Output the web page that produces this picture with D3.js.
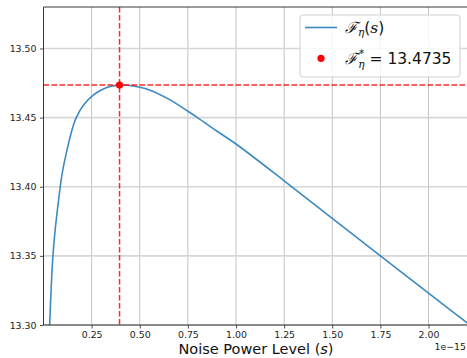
<!DOCTYPE html>
<html>
<head>
<meta charset="utf-8">
<script src="https://cdn.jsdelivr.net/npm/d3@7"></script>
<style>
  body { margin: 0; background: #fff; }
  text { font-family: "DejaVu Sans", sans-serif; }
</style>
</head>
<body>
<div id="chart"></div>
<script>
// noise power level (x 1e-15) and objective value
const noiseLevels = [0.032, 0.040, 0.049, 0.060, 0.078, 0.087, 0.100, 0.118, 0.148, 0.170,
  0.208, 0.260, 0.300, 0.350, 0.395, 0.450, 0.500, 0.550, 0.655, 0.750,
  0.800, 0.900, 1.000, 1.250, 1.500, 1.750, 2.000, 2.205];
const objectiveValues = [13.3000, 13.3270, 13.3500, 13.3680, 13.3900, 13.4000, 13.4120, 13.4240, 13.4411, 13.4500,
  13.4592, 13.4664, 13.4700, 13.4727, 13.4735, 13.4732, 13.4720, 13.4700, 13.4630, 13.4546,
  13.4500, 13.4403, 13.4309, 13.4043, 13.3771, 13.3500, 13.3230, 13.3010];
const xTicks = [0.25, 0.50, 0.75, 1.00, 1.25, 1.50, 1.75, 2.00];
const yTicks = [13.30, 13.35, 13.40, 13.45, 13.50];
const optimum = { s: 0.395, value: 13.4735 };

const width = 467, height = 358;
const plot = { left: 43.5, right: 468, top: 7, bottom: 325 };

const svg = d3.select("#chart").append("svg")
  .attr("width", width).attr("height", height);

const x = d3.scaleLinear().domain([0, 2.205]).range([plot.left, plot.right]);
const y = d3.scaleLinear().domain([13.30, 13.53]).range([plot.bottom, plot.top]);

svg.append("clipPath").attr("id", "clip")
  .append("rect")
  .attr("x", plot.left).attr("y", plot.top)
  .attr("width", plot.right - plot.left).attr("height", plot.bottom - plot.top);

// grid
svg.append("g").selectAll("line").data(xTicks).enter().append("line")
  .attr("x1", d => x(d)).attr("x2", d => x(d))
  .attr("y1", plot.top).attr("y2", plot.bottom)
  .attr("stroke", "#c4c4c4").attr("stroke-width", 1);
svg.append("g").selectAll("line").data(yTicks).enter().append("line")
  .attr("x1", plot.left).attr("x2", plot.right)
  .attr("y1", d => y(d)).attr("y2", d => y(d))
  .attr("stroke", "#d6d6d6").attr("stroke-width", 1.6);

// curve
const points = noiseLevels.map((s, i) => ({ s: s, v: objectiveValues[i] }));
const line = d3.line().x(d => x(d.s)).y(d => y(d.v)).curve(d3.curveCatmullRom.alpha(0.5));
svg.append("path")
  .datum(points)
  .attr("clip-path", "url(#clip)")
  .attr("d", line)
  .attr("fill", "none")
  .attr("stroke", "#3b8bc2")
  .attr("stroke-width", 1.6);

// optimum guides
svg.append("line")
  .attr("x1", plot.left).attr("x2", plot.right)
  .attr("y1", y(optimum.value)).attr("y2", y(optimum.value))
  .attr("stroke", "#f00").attr("stroke-opacity", 0.85)
  .attr("stroke-width", 1.5).attr("stroke-dasharray", "5.5,2.5");
svg.append("line")
  .attr("x1", x(optimum.s)).attr("x2", x(optimum.s))
  .attr("y1", plot.top).attr("y2", plot.bottom)
  .attr("stroke", "#f00").attr("stroke-opacity", 0.85)
  .attr("stroke-width", 1.5).attr("stroke-dasharray", "5.5,2.5");
svg.append("circle")
  .attr("cx", x(optimum.s)).attr("cy", y(optimum.value))
  .attr("r", 3.6).attr("fill", "red");

// axes
const xAxis = svg.append("g")
  .attr("transform", `translate(0,${plot.bottom})`)
  .call(d3.axisBottom(x).tickValues(xTicks).tickFormat(d3.format(".2f")).tickSize(3.5).tickPadding(3));
const yAxis = svg.append("g")
  .attr("transform", `translate(${plot.left},0)`)
  .call(d3.axisLeft(y).tickValues(yTicks).tickFormat(d3.format(".2f")).tickSize(3.5).tickPadding(3.5));
[xAxis, yAxis].forEach(g => {
  g.select(".domain").remove();
  g.selectAll("text").attr("font-size", 9.4).attr("fill", "#222")
    .attr("font-family", "DejaVu Sans");
  g.selectAll("line").attr("stroke", "#222").attr("stroke-width", 0.8);
});

// spines
svg.append("line").attr("x1", plot.left).attr("x2", plot.left)
  .attr("y1", plot.top).attr("y2", plot.bottom).attr("stroke", "#222").attr("stroke-width", 0.9);
svg.append("line").attr("x1", plot.left).attr("x2", plot.right)
  .attr("y1", plot.bottom).attr("y2", plot.bottom).attr("stroke", "#222").attr("stroke-width", 0.9);
svg.append("line").attr("x1", plot.left).attr("x2", plot.right)
  .attr("y1", plot.top).attr("y2", plot.top).attr("stroke", "#222").attr("stroke-width", 0.9);

// labels
const xLabel = svg.append("text")
  .attr("x", 256).attr("y", 353.5)
  .attr("text-anchor", "middle").attr("font-size", 14.5).attr("fill", "#111");
xLabel.append("tspan").text("Noise Power Level (");
xLabel.append("tspan").attr("font-style", "italic").text("s");
xLabel.append("tspan").text(")");

svg.append("text")
  .attr("x", 466).attr("y", 350)
  .attr("text-anchor", "end").attr("font-size", 9.4).attr("fill", "#222")
  .text("1e\u221215");

// legend
const legend = svg.append("g");
legend.append("rect")
  .attr("x", 300).attr("y", 15).attr("width", 160).attr("height", 62).attr("rx", 3)
  .attr("fill", "#fff").attr("fill-opacity", 0.85)
  .attr("stroke", "#d0d0d0").attr("stroke-width", 1);
legend.append("line")
  .attr("x1", 305).attr("x2", 337).attr("y1", 27.5).attr("y2", 27.5)
  .attr("stroke", "#3b8bc2").attr("stroke-width", 1.6);
legend.append("circle").attr("cx", 321).attr("cy", 58.3).attr("r", 3.6).attr("fill", "red");

const t1 = legend.append("text").attr("x", 345).attr("y", 33).attr("font-size", 15.5).attr("fill", "#111");
t1.append("tspan").attr("font-family", "DejaVu Serif").attr("font-style", "italic").text("\u2131");
t1.append("tspan").attr("font-size", 10.5).attr("dy", 3).attr("font-family", "DejaVu Serif").attr("font-style", "italic").text("\u03b7");
t1.append("tspan").attr("dy", -3).text("(");
t1.append("tspan").attr("font-family", "DejaVu Serif").attr("font-style", "italic").text("s");
t1.append("tspan").text(")");

const t2 = legend.append("text").attr("x", 345).attr("y", 64).attr("font-size", 15.5).attr("fill", "#111");
t2.append("tspan").attr("font-family", "DejaVu Serif").attr("font-style", "italic").text("\u2131");
t2.append("tspan").attr("font-size", 10.5).attr("dx", 1).attr("dy", -7).text("*");
t2.append("tspan").attr("font-size", 10.5).attr("dx", -6).attr("dy", 11).attr("font-family", "DejaVu Serif").attr("font-style", "italic").text("\u03b7");
t2.append("tspan").attr("dy", -4).text(" = " + optimum.value.toFixed(4));
</script>
</body>
</html>
